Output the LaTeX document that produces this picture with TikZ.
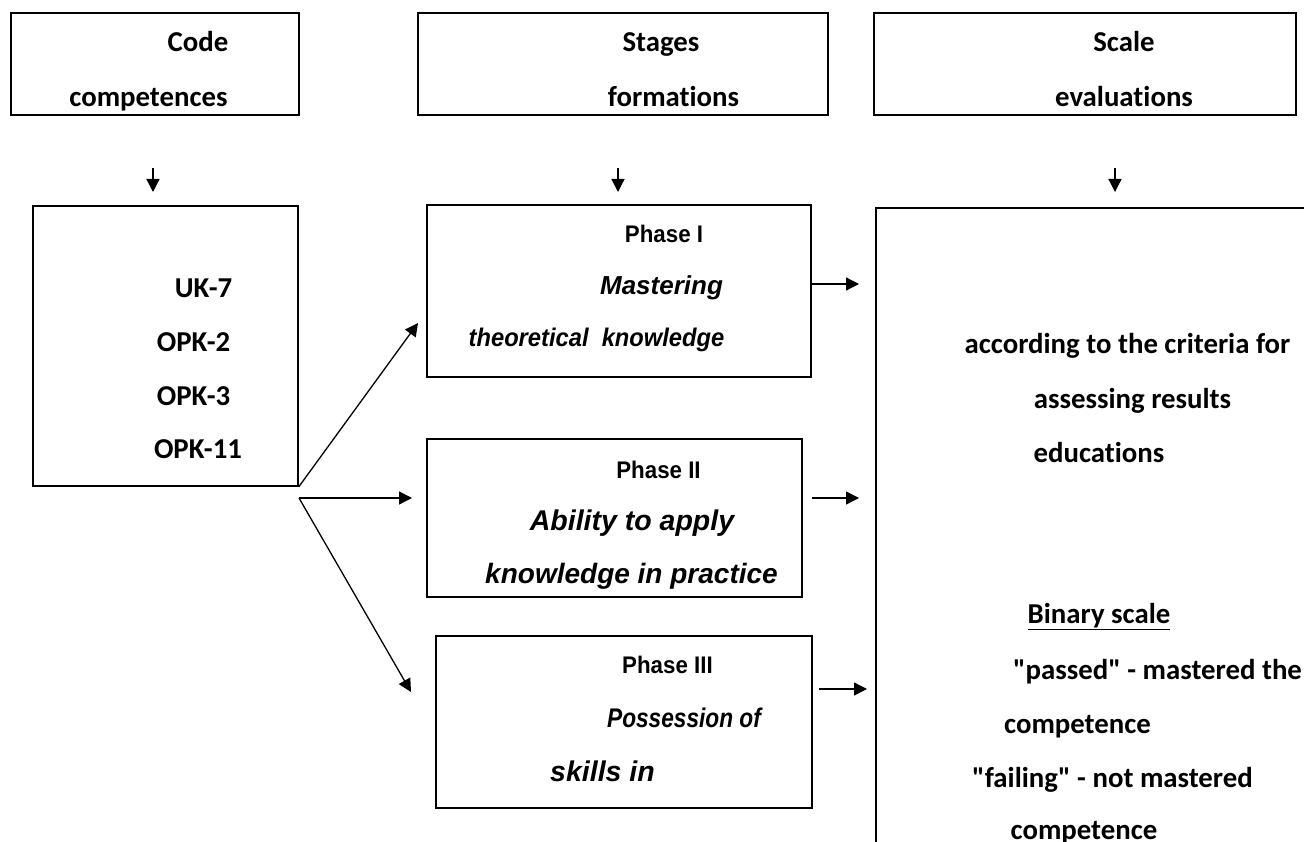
\documentclass[tikz,border=0pt]{standalone}
\usepackage{fontspec}
\setmainfont{Carlito}[Ligatures={TeXOff,NoCommon}]
\newfontfamily\arialf{Liberation Sans}
\newfontfamily\arialn{Liberation Sans}[FakeStretch=0.93]
\newfontfamily\arialnn{Liberation Sans}[FakeStretch=0.84]
\usetikzlibrary{arrows.meta}
\tikzset{
  box/.style={draw, line width=1.6pt, rectangle, inner sep=0pt},
  lab/.style={anchor=base, inner sep=0pt, font=\fontsize{28.8}{30}\selectfont\bfseries},
  ph/.style={anchor=base, inner sep=0pt, font=\arialn\fontsize{24}{26}\selectfont\bfseries},
  itl/.style={anchor=base, inner sep=0pt, font=\arialf\fontsize{26}{28}\selectfont\bfseries\itshape},
  conn/.style={line width=1.3pt, -{Triangle[length=13pt,width=13pt]}}
}
\begin{document}
\begin{tikzpicture}[x=1pt,y=-1pt]
\useasboundingbox (0,0) rectangle (1304,842);
\clip (0,0) rectangle (1304,842);
% top boxes
\node[box, minimum width=288pt, minimum height=102pt] (A) at (155,64) {};
\node[box, minimum width=410pt, minimum height=102pt] (B) at (623,64) {};
\node[box, minimum width=422pt, minimum height=102pt] (C) at (1085,64) {};
\node[lab] (tA1) at (198,52) {Code};
\node[lab] (tA2) at (148.5,107) {competences};
\node[lab] (tB1) at (661,52) {Stages};
\node[lab] (tB2) at (673.5,107) {formations};
\node[lab] (tC1) at (1124,52) {Scale};
\node[lab] (tC2) at (1124,107) {evaluations};
% lower boxes
\node[box, minimum width=265pt, minimum height=280pt] (UK) at (165.5,346) {};
\node[box, minimum width=384pt, minimum height=172pt] (P1) at (619,291) {};
\node[box, minimum width=375pt, minimum height=158pt] (P2) at (614.5,518) {};
\node[box, minimum width=376pt, minimum height=172pt] (P3) at (624,722) {};
\node[box, minimum width=434pt, minimum height=642pt] (R) at (1093,529) {};
% UK texts
\node[lab] (u1) at (203.5,298) {UK-7};
\node[lab] (u2) at (193.5,352) {OPK-2};
\node[lab] (u3) at (193.5,405) {OPK-3};
\node[lab] (u4) at (198,458) {OPK-11};
% phase texts
\node[ph] (p1a) at (664,243) {Phase I};
\node[itl] (p1b) at (661.5,295) {Mastering};
\node[itl, font=\arialn\fontsize{25.5}{27}\selectfont\bfseries\itshape] (p1c) at (596.5,347) {theoretical\ \ knowledge};
\node[ph] (p2a) at (658.5,478) {Phase II};
\node[itl, font=\arialf\fontsize{28.5}{30}\selectfont\bfseries\itshape] (p2b) at (632,530) {Ability to apply};
\node[itl, font=\arialf\fontsize{28}{30}\selectfont\bfseries\itshape] (p2c) at (631.5,583) {knowledge in practice};
\node[ph] (p3a) at (667.5,673) {Phase III};
\node[itl, font=\arialnn\fontsize{27}{29}\selectfont\bfseries\itshape] (p3b) at (684,727) {Possession of};
\node[itl, font=\arialf\fontsize{28.5}{30}\selectfont\bfseries\itshape] (p3c) at (602.5,781) {skills in};
% right texts
\node[lab] (r1) at (1127.5,353) {according to the criteria for};
\node[lab] (r2) at (1132.5,408) {assessing results};
\node[lab] (r3) at (1099,462) {educations};
\node[lab] (r4) at (1099,623) {\underline{Binary scale}};
\node[lab] (r5) at (1157.5,679) {"passed" - mastered the};
\node[lab] (r6) at (1077.5,733) {competence};
\node[lab] (r7) at (1112.5,787) {"failing" - not mastered};
\node[lab] (r8) at (1084,839) {competence};
% arrow coordinates
\coordinate (d1s) at (153,168); \coordinate (d1e) at (153,192);
\coordinate (d2s) at (618,168); \coordinate (d2e) at (618,192);
\coordinate (d3s) at (1115,168); \coordinate (d3e) at (1115,192);
\coordinate (fork) at (299,498);
\coordinate (t1) at (418,323);
\coordinate (t2) at (412,498);
\coordinate (t3) at (411,692);
\coordinate (h1s) at (812,284); \coordinate (h1e) at (859,284);
\coordinate (h2s) at (812,498); \coordinate (h2e) at (859,498);
\coordinate (h3s) at (819,689); \coordinate (h3e) at (867,689);
% arrows
\draw[conn] (d1s) -- (d1e);
\draw[conn] (d2s) -- (d2e);
\draw[conn] (d3s) -- (d3e);
\draw[conn] (UK.south east) -- (t1);
\draw[conn] (fork) -- (t2);
\draw[conn] (fork) -- (t3);
\draw[conn] (h1s) -- (h1e);
\draw[conn] (h2s) -- (h2e);
\draw[conn] (h3s) -- (h3e);
\end{tikzpicture}
\end{document}
